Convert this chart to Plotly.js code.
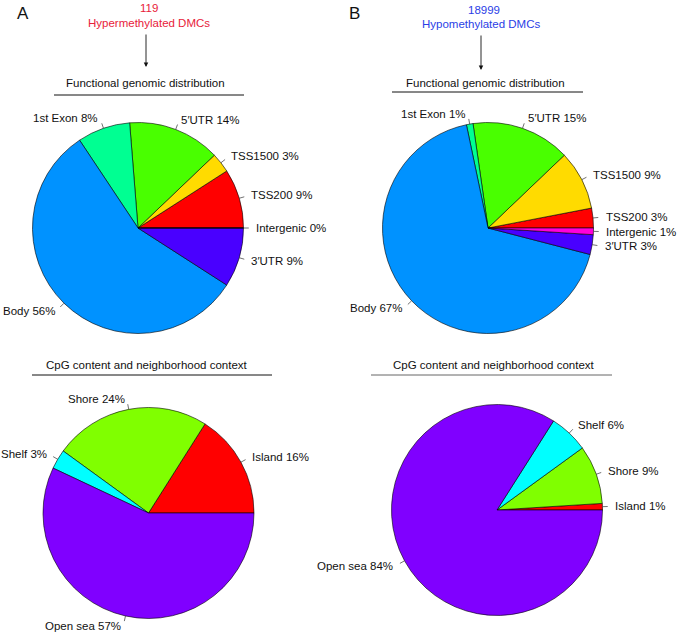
<!DOCTYPE html>
<html>
<head>
<meta charset="utf-8">
<script src="https://cdn.plot.ly/plotly-3.0.1.min.js"></script>
<style>
  body { margin: 0; background: #fff; }
  #myDiv { width: 677px; height: 638px; }
</style>
</head>
<body>
<div id="myDiv"></div>
<script>
var W = 677, H = 638;

// slice order follows R pie(): counterclockwise from 3 o'clock
var genomicLabels = ['TSS200', 'TSS1500', "5\u2032UTR", '1st Exon', 'Body', "3\u2032UTR", 'Intergenic'];
var hyperGenomic = [9, 3, 14, 8, 56, 9, 0];
var hypoGenomic = [3, 9, 15, 1, 67, 3, 1];

var cpgLabels = ['Island', 'Shore', 'Shelf', 'Open sea'];
var hyperCpg = [16, 24, 3, 57];
var hypoCpg = [1, 9, 6, 84];

// R rainbow(7) and rainbow(4)
var genomicColors = ['#FF0000', '#FFDB00', '#49FF00', '#00FF92', '#0092FF', '#4900FF', '#FF00DB'];
var cpgColors = ['#FF0000', '#80FF00', '#00FFFF', '#8000FF'];

var font = 'Liberation Sans, Arial, sans-serif';
var fs = 11.5;

function px(x) { return x / W; }
function py(y) { return 1 - y / H; }

var pies = [
    { labels: genomicLabels, values: hyperGenomic, colors: genomicColors, cx: 138, cy: 228, r: 105.5 },
    { labels: genomicLabels, values: hypoGenomic, colors: genomicColors, cx: 488, cy: 228, r: 105.5 },
    { labels: cpgLabels, values: hyperCpg, colors: cpgColors, cx: 148.5, cy: 513, r: 105.5 },
    { labels: cpgLabels, values: hypoCpg, colors: cpgColors, cx: 497, cy: 510, r: 105.5 }
];

var data = [];
var annotations = [];
var shapes = [];

pies.forEach(function (p) {
    var total = p.values.reduce(function (a, b) { return a + b; }, 0);

    // plotly's ccw pie ends the first slice at `rotation`, shift so it starts at 3 o'clock
    data.push({
        type: 'pie',
        labels: p.labels,
        values: p.values,
        sort: false,
        direction: 'counterclockwise',
        rotation: 90 - 360 * p.values[0] / total,
        textinfo: 'none',
        hoverinfo: 'skip',
        showlegend: false,
        marker: { colors: p.colors, line: { color: '#000', width: 0.6 } },
        domain: {
            x: [px(p.cx - p.r), px(p.cx + p.r)],
            y: [py(p.cy + p.r), py(p.cy - p.r)]
        }
    });

    // labels + little ticks like R's pie()
    var cum = 0;
    p.values.forEach(function (v, i) {
        var t = 2 * Math.PI * (cum + v / 2) / total;
        cum += v;
        var c = Math.cos(t), s = Math.sin(t);
        shapes.push({
            type: 'line', xref: 'paper', yref: 'paper',
            x0: px(p.cx + p.r * c), y0: py(p.cy - p.r * s),
            x1: px(p.cx + 1.05 * p.r * c), y1: py(p.cy - 1.05 * p.r * s),
            line: { color: '#333', width: 0.7 }
        });
        annotations.push({
            xref: 'paper', yref: 'paper', showarrow: false,
            x: px(p.cx + 1.1 * p.r * c), y: py(p.cy - 1.1 * p.r * s),
            xanchor: c < 0 ? 'right' : 'left', yanchor: 'middle',
            text: p.labels[i] + ' ' + v + '%',
            font: { family: font, size: fs, color: '#111' }
        });
    });
});

function addText(txt, x, y, size, color) {
    annotations.push({
        xref: 'paper', yref: 'paper', showarrow: false,
        x: px(x), y: py(y), xanchor: 'center', yanchor: 'middle',
        text: txt, font: { family: font, size: size, color: color }
    });
}

addText('A', 23, 13, 17, '#111');
addText('B', 354, 13, 17, '#111');

addText('119', 149, 8, fs, '#e8213a');
addText('Hypermethylated DMCs', 148.5, 23, fs, '#e8213a');
addText('18999', 484, 10, fs, '#2a3ee6');
addText('Hypomethylated DMCs', 480.5, 24, fs, '#2a3ee6');

addText('Functional genomic distribution', 145.5, 83, fs, '#111');
addText('Functional genomic distribution', 485.5, 83, fs, '#111');
addText('CpG content and neighborhood context', 147, 365, fs, '#111');
addText('CpG content and neighborhood context', 494, 365, fs, '#111');

// arrows
[[146, 33, 67], [481, 34, 70]].forEach(function (a) {
    annotations.push({
        xref: 'paper', yref: 'paper', x: px(a[0]), y: py(a[2]),
        ax: 0, ay: -(a[2] - a[1]), text: '', showarrow: true,
        arrowhead: 2, arrowsize: 1, arrowwidth: 0.9, arrowcolor: '#111'
    });
});

// title underlines
[[54, 244, 95, '#111'], [392, 583, 92, '#111'], [32, 272, 375, '#111'], [371, 612, 375, '#666']].forEach(function (l) {
    shapes.push({
        type: 'line', xref: 'paper', yref: 'paper',
        x0: px(l[0]), x1: px(l[1]), y0: py(l[2]), y1: py(l[2]),
        line: { color: l[3], width: 1 }
    });
});

var layout = {
    width: W,
    height: H,
    margin: { l: 0, r: 0, t: 0, b: 0 },
    paper_bgcolor: '#fff',
    showlegend: false,
    annotations: annotations,
    shapes: shapes
};

Plotly.newPlot('myDiv', data, layout, { displayModeBar: false, staticPlot: true });
</script>
</body>
</html>
